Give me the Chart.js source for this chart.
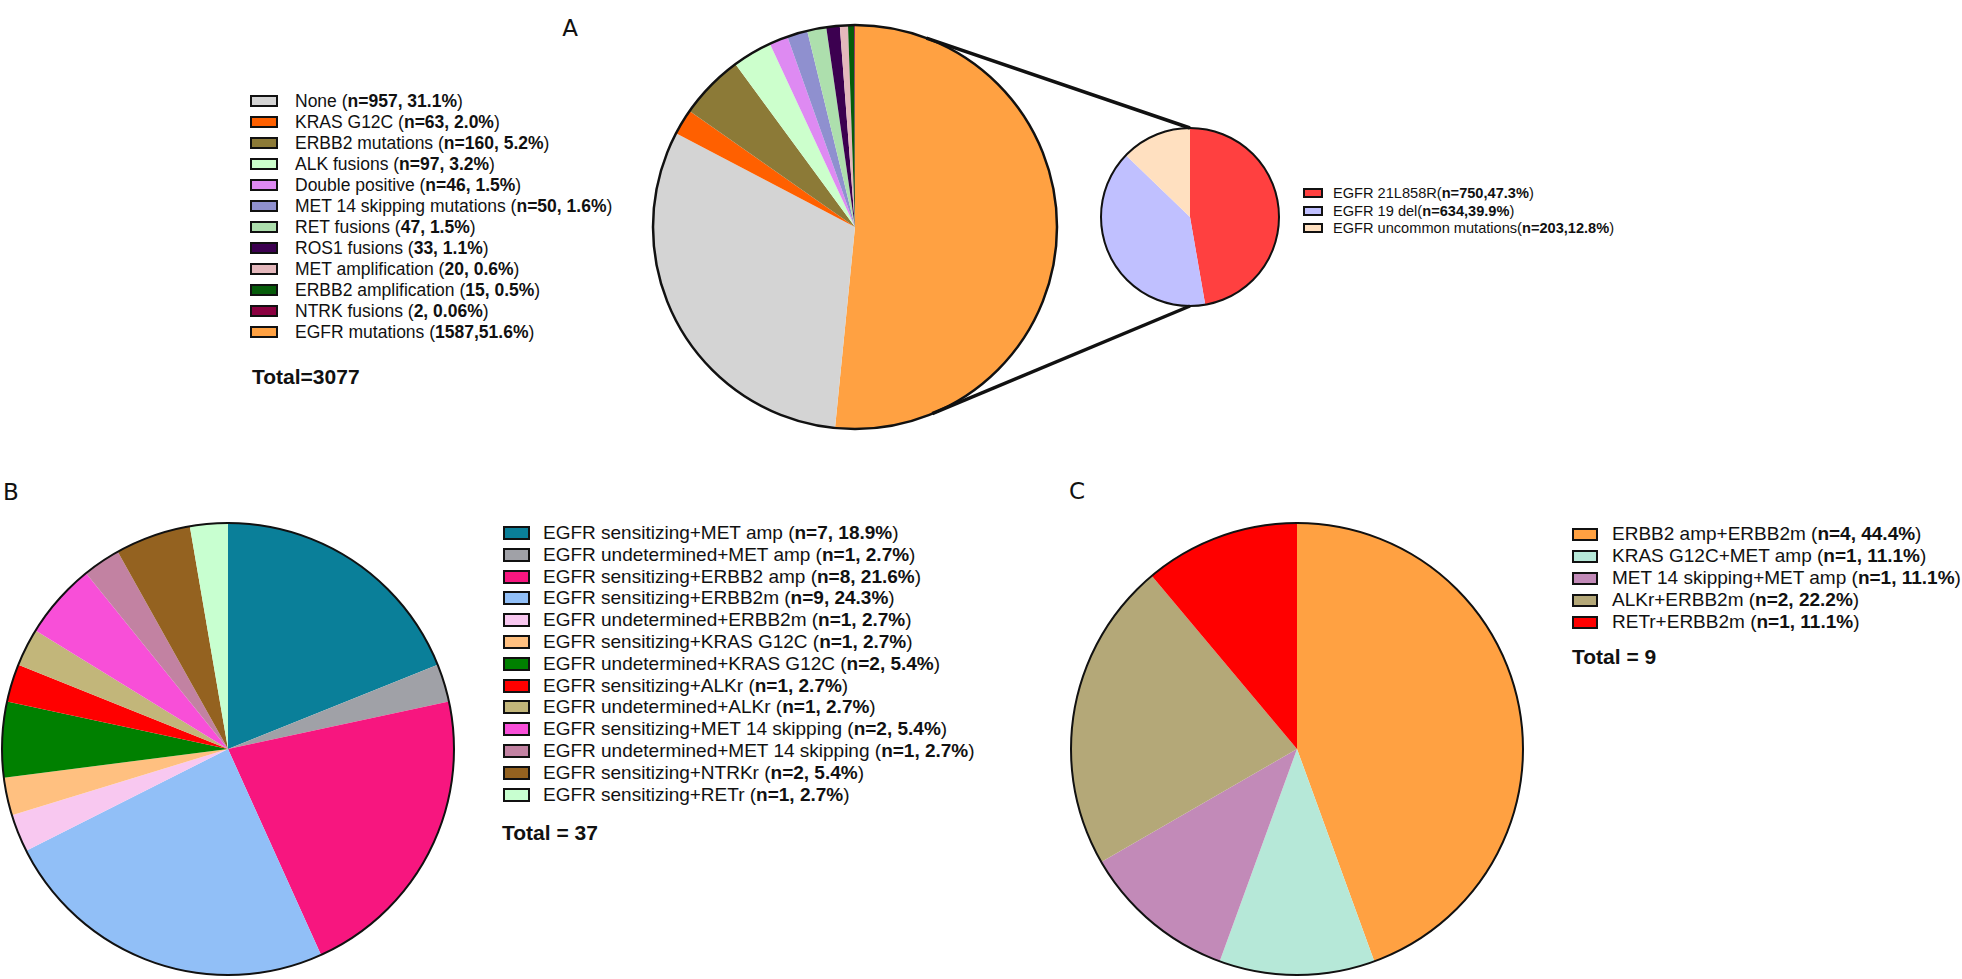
<!DOCTYPE html>
<html>
<head>
<meta charset="utf-8">
<title>Gene alterations</title>
<script src="https://cdn.jsdelivr.net/npm/chart.js@4.4.0/dist/chart.umd.min.js"></script>
<style>
  html, body { margin: 0; padding: 0; background: #fff; }
  body { width: 1962px; height: 979px; position: relative; overflow: hidden;
         font-family: "Liberation Sans", Arial, sans-serif; color: #111; }
  .pie { position: absolute; }
  .panel { position: absolute; font-family: "DejaVu Sans", sans-serif; font-size: 23px; line-height: 1; transform: translate(-50%, -50%); }
  .legend { position: absolute; }
  .row { position: absolute; left: 0; display: flex; align-items: center; white-space: nowrap; }
  .box { box-sizing: border-box; border: 2px solid #111; flex: none; }
  .total { position: absolute; font-weight: bold; white-space: nowrap; font-size: 21px; line-height: 1; transform: translateY(-50%); }
  #links { position: absolute; left: 0; top: 0; pointer-events: none; }
</style>
</head>
<body>

<div class="panel" style="left:570px; top:28px">A</div>
<div class="panel" style="left:11px; top:492px">B</div>
<div class="panel" style="left:1077px; top:491px">C</div>

<div class="pie" style="left:650px; top:22px"><canvas id="pieA" width="410" height="410"></canvas></div>
<div class="pie" style="left:1098px; top:125px"><canvas id="pieEgfr" width="184" height="184"></canvas></div>
<div class="pie" style="left:-1px; top:520px"><canvas id="pieB" width="458" height="458"></canvas></div>
<div class="pie" style="left:1068px; top:520px"><canvas id="pieC" width="458" height="458"></canvas></div>

<div class="legend" id="legA"></div>
<div class="legend" id="legEgfr"></div>
<div class="legend" id="legB"></div>
<div class="legend" id="legC"></div>

<div class="total" style="left:252px; top:376px">Total=3077</div>
<div class="total" style="left:502px; top:832px">Total = 37</div>
<div class="total" style="left:1572px; top:656px">Total = 9</div>

<canvas id="links" width="1962" height="979"></canvas>

<script>
// A: whole cohort (legend order; EGFR is drawn first from 12 o'clock)
const labelsA = ['None', 'KRAS G12C', 'ERBB2 mutations', 'ALK fusions', 'Double positive',
  'MET 14 skipping mutations', 'RET fusions', 'ROS1 fusions', 'MET amplification',
  'ERBB2 amplification', 'NTRK fusions', 'EGFR mutations']
const countsA = [957, 63, 160, 97, 46, 50, 47, 33, 20, 15, 2, 1587]
const notesA = ['n=957, 31.1%', 'n=63, 2.0%', 'n=160, 5.2%', 'n=97, 3.2%', 'n=46, 1.5%',
  'n=50, 1.6%', '47, 1.5%', '33, 1.1%', '20, 0.6%', '15, 0.5%', '2, 0.06%', '1587,51.6%']
const colorsA = ['#d4d4d4', '#ff6000', '#8c7a37', '#ccffcc', '#de8af2', '#8f90cf',
  '#addfad', '#3c0050', '#e4b8bc', '#065c0a', '#8a0040', '#ffa142']

// EGFR breakdown
const labelsEgfr = ['EGFR 21L858R', 'EGFR 19 del', 'EGFR uncommon mutations']
const countsEgfr = [750, 634, 203]
const notesEgfr = ['n=750,47.3%', 'n=634,39.9%', 'n=203,12.8%']
const colorsEgfr = ['#ff4040', '#c0c0ff', '#ffe0c0']

// B: EGFR co-alterations
const labelsB = ['EGFR sensitizing+MET amp', 'EGFR undetermined+MET amp', 'EGFR sensitizing+ERBB2 amp',
  'EGFR sensitizing+ERBB2m', 'EGFR undetermined+ERBB2m', 'EGFR sensitizing+KRAS G12C',
  'EGFR undetermined+KRAS G12C', 'EGFR sensitizing+ALKr', 'EGFR undetermined+ALKr',
  'EGFR sensitizing+MET 14 skipping', 'EGFR undetermined+MET 14 skipping',
  'EGFR sensitizing+NTRKr', 'EGFR sensitizing+RETr']
const countsB = [7, 1, 8, 9, 1, 1, 2, 1, 1, 2, 1, 2, 1]
const notesB = ['n=7, 18.9%', 'n=1, 2.7%', 'n=8, 21.6%', 'n=9, 24.3%', 'n=1, 2.7%', 'n=1, 2.7%',
  'n=2, 5.4%', 'n=1, 2.7%', 'n=1, 2.7%', 'n=2, 5.4%', 'n=1, 2.7%', 'n=2, 5.4%', 'n=1, 2.7%']
const colorsB = ['#0a7f99', '#a0a1a7', '#f7167f', '#91bff7', '#f8c8f0', '#ffc080',
  '#008000', '#ff0000', '#c2b67a', '#f84fd8', '#c282a2', '#946220', '#c8ffd0']

// C: other co-alterations
const labelsC = ['ERBB2 amp+ERBB2m', 'KRAS G12C+MET amp', 'MET 14 skipping+MET amp',
  'ALKr+ERBB2m', 'RETr+ERBB2m']
const countsC = [4, 1, 1, 2, 1]
const notesC = ['n=4, 44.4%', 'n=1, 11.1%', 'n=1, 11.1%', 'n=2, 22.2%', 'n=1, 11.1%']
const colorsC = ['#ffa142', '#b6e8d8', '#c28ab8', '#b4a878', '#ff0000']

// black ring round the pie, no lines between slices
const ringPlugin = {
  id: 'ring',
  afterDatasetsDraw(chart, args, opts) {
    const arc = chart.getDatasetMeta(0).data[0]
    const ctx = chart.ctx
    ctx.save()
    ctx.beginPath()
    ctx.arc(arc.x, arc.y, arc.outerRadius, 0, Math.PI * 2)
    ctx.lineWidth = opts.width || 2
    ctx.strokeStyle = '#111'
    ctx.stroke()
    ctx.restore()
  }
}

function makePie(id, labels, values, colors, ring) {
  return new Chart(document.getElementById(id), {
    type: 'pie',
    data: {
      labels: labels,
      datasets: [{ data: values, backgroundColor: colors, borderWidth: 0, hoverOffset: 0 }]
    },
    options: {
      responsive: false,
      animation: false,
      events: [],
      layout: { padding: 3 },
      plugins: { legend: { display: false }, tooltip: { enabled: false }, ring: { width: ring } }
    },
    plugins: [ringPlugin]
  })
}

function buildLegend(id, labels, notes, colors, o) {
  const el = document.getElementById(id)
  el.style.left = o.left + 'px'
  el.style.top = (o.top - o.step / 2) + 'px'
  labels.forEach((name, i) => {
    const row = document.createElement('div')
    row.className = 'row'
    row.style.top = (i * o.step) + 'px'
    row.style.height = o.step + 'px'
    row.style.fontSize = o.font + 'px'
    const box = document.createElement('span')
    box.className = 'box'
    box.style.width = o.boxW + 'px'
    box.style.height = o.boxH + 'px'
    box.style.background = colors[i]
    box.style.marginRight = o.gap + 'px'
    const txt = document.createElement('span')
    txt.innerHTML = name + o.sep + '(<b>' + notes[i] + '</b>)'
    row.appendChild(box)
    row.appendChild(txt)
    el.appendChild(row)
  })
}

// pie A starts with EGFR mutations at 12 o'clock, then the legend order
const last = labelsA.length - 1
const chartA = makePie('pieA',
  [labelsA[last]].concat(labelsA.slice(0, last)),
  [countsA[last]].concat(countsA.slice(0, last)),
  [colorsA[last]].concat(colorsA.slice(0, last)), 2.5)
const chartEgfr = makePie('pieEgfr', labelsEgfr, countsEgfr, colorsEgfr, 2)
makePie('pieB', labelsB, countsB, colorsB, 2)
makePie('pieC', labelsC, countsC, colorsC, 2)

buildLegend('legA', labelsA, notesA, colorsA, { left: 250, top: 101, step: 21, font: 17.5, boxW: 28, boxH: 12, gap: 17, sep: ' ' })
buildLegend('legEgfr', labelsEgfr, notesEgfr, colorsEgfr, { left: 1303, top: 193, step: 17.5, font: 14.6, boxW: 20, boxH: 10, gap: 10, sep: '' })
buildLegend('legB', labelsB, notesB, colorsB, { left: 503, top: 533, step: 21.8, font: 19, boxW: 27, boxH: 14, gap: 13, sep: ' ' })
buildLegend('legC', labelsC, notesC, colorsC, { left: 1572, top: 534, step: 22, font: 19, boxW: 26, boxH: 13, gap: 14, sep: ' ' })

// lines joining the EGFR slice to its breakdown pie
function pointOn(chart, deg) {
  const arc = chart.getDatasetMeta(0).data[0]
  const r = chart.canvas.getBoundingClientRect()
  const a = (deg - 90) * Math.PI / 180
  return [r.left + arc.x + arc.outerRadius * Math.cos(a), r.top + arc.y + arc.outerRadius * Math.sin(a)]
}
const links = document.getElementById('links').getContext('2d')
links.strokeStyle = '#111'
links.lineWidth = 3.5
links.lineCap = 'butt'
;[[20.7, 0], [157.5, 180]].forEach(([from, to]) => {
  const p = pointOn(chartA, from)
  const q = pointOn(chartEgfr, to)
  links.beginPath()
  links.moveTo(p[0], p[1])
  links.lineTo(q[0], q[1])
  links.stroke()
})
</script>
</body>
</html>
